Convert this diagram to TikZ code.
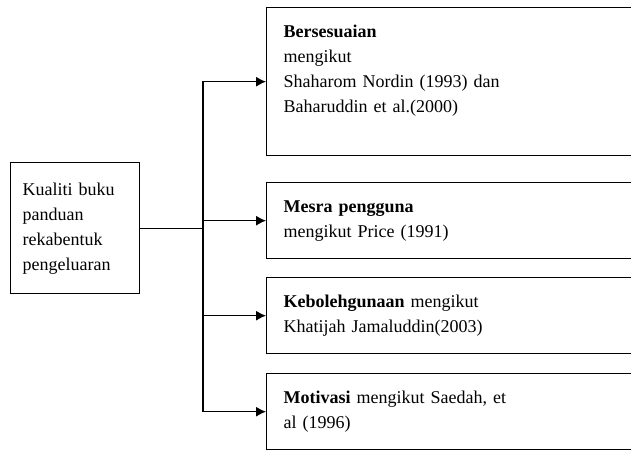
\documentclass[tikz,border=0pt]{standalone}
\usepackage{fontspec}
\setmainfont{Liberation Serif}
\usetikzlibrary{arrows.meta,positioning}

\begin{document}
\begin{tikzpicture}[x=0.5pt,y=-0.5pt,
    box/.style={draw,line width=0.7pt,anchor=north west,align=left,inner xsep=7.5pt,
      font=\fontsize{9}{12.5}\selectfont},
    rbox/.style={box,text width=180pt,minimum width=197pt,minimum height=38pt},
    arr/.style={line width=0.6pt,-{Latex[length=5pt,width=5pt]}}]
    \useasboundingbox (0,0) rectangle (631,450);
    \clip (0,0) rectangle (631,450);
    \node[box,text width=52.5pt,minimum width=64.5pt,minimum height=65.5pt,inner xsep=6pt] (A) at (10,162)
      {Kualiti buku\\ panduan\\ rekabentuk\\ pengeluaran};
    \node[rbox,minimum height=74pt] (B1) at (266,7)
      {\textbf{Bersesuaian}\\ mengikut\\ Shaharom Nordin (1993) dan\\ Baharuddin et al.(2000)\\ \mbox{}};
    \node[rbox] (B2) at (266,182) {\textbf{Mesra pengguna}\\ mengikut Price (1991)};
    \node[rbox] (B3) at (266,277) {\textbf{Kebolehgunaan} mengikut\\ Khatijah Jamaluddin(2003)};
    \node[rbox] (B4) at (266,373) {\textbf{Motivasi} mengikut Saedah, et\\ al (1996)};
    \coordinate (S) at (203,0);
    \coordinate (J) at (A.east -| S);
    \draw[line width=0.6pt] (A.east) -- (J);
    \draw[arr] (J) |- (B1.west);
    \draw[arr] (J) |- (B2.west);
    \draw[arr] (J) |- (B3.west);
    \draw[arr] (J) |- (B4.west);
\end{tikzpicture}
\end{document}
